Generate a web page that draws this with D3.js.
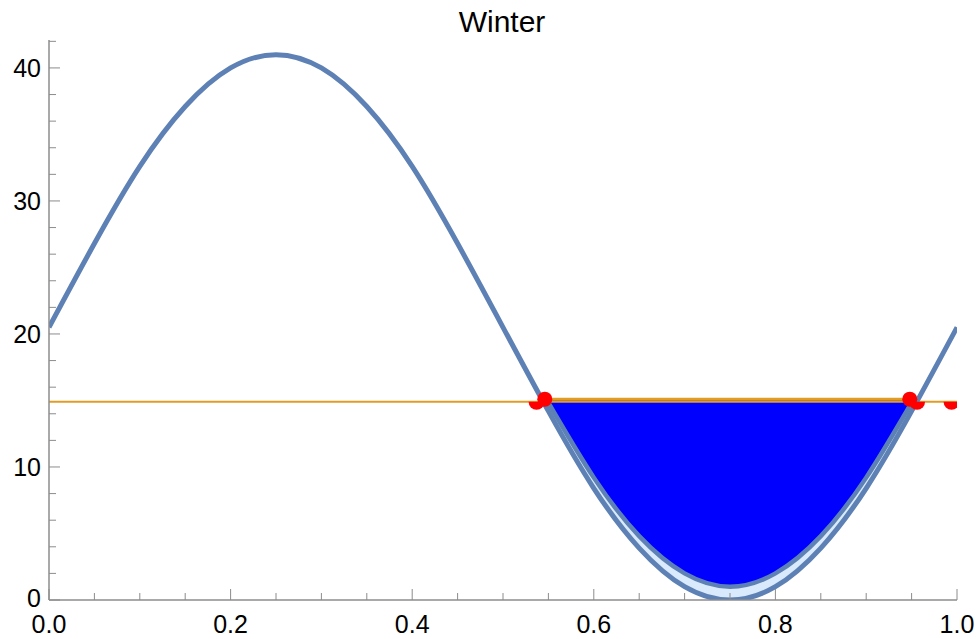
<!DOCTYPE html>
<html>
<head>
<meta charset="utf-8">
<title>Winter</title>
<script src="https://d3js.org/d3.v7.min.js"></script>
<style>
  body { margin: 0; background: #fff; }
  svg { display: block; font-family: "Liberation Sans", Arial, sans-serif; }
</style>
</head>
<body>
<div id="chart"></div>
<script>
// values
const curveX = [0, 0.05, 0.1, 0.15, 0.2, 0.25, 0.3, 0.35, 0.4, 0.45, 0.5,
                0.55, 0.6, 0.65, 0.7, 0.75, 0.8, 0.85, 0.9, 0.95, 1];
const curveY = [20.5, 26.8, 32.6, 37.1, 40.0, 41.0, 40.0, 37.1, 32.6, 26.8, 20.5,
                14.2, 8.4, 3.9, 1.0, 0.0, 1.0, 3.9, 8.4, 14.2, 20.5];

// lower part of the outer curve, below the threshold
const bandX = [0.543, 0.6, 0.65, 0.7, 0.75, 0.8, 0.85, 0.9, 0.957];
const bandY = [15.0, 8.4, 3.9, 1.0, 0.0, 1.0, 3.9, 8.4, 15.0];

// inner curve bounding the blue region
const innerX = [0.5485, 0.6, 0.65, 0.7, 0.75, 0.8, 0.85, 0.9, 0.9515];
const innerY = [15.0, 9.2, 4.8, 2.0, 1.0, 2.0, 4.8, 9.2, 15.0];

const threshold = 14.9;
const fillTop = 15.1;

const fullDotX = [0.546, 0.948];
const fullDotY = [15.1, 15.1];
const halfDotX = [0.537, 0.956, 0.994];
const halfDotY = [14.9, 14.9, 14.9];

const xTicks = [0, 0.2, 0.4, 0.6, 0.8, 1.0];
const xMinor = d3.range(0, 1.0001, 0.05);
const yTicks = [0, 10, 20, 30, 40];
const yMinor = d3.range(0, 42.1, 2);

const W = 979, H = 639;
const svg = d3.select("#chart").append("svg")
    .attr("width", W).attr("height", H);

const x = d3.scaleLinear().domain([0, 1]).range([49, 957]);
const y = d3.scaleLinear().domain([0, 42.1]).range([600, 40]);

svg.append("defs").append("clipPath").attr("id", "plot")
  .append("rect").attr("x", 49).attr("y", 0).attr("width", 908).attr("height", 600);

const g = svg.append("g").attr("clip-path", "url(#plot)");

const steel = "#5e81b5";
const orange = "#e19c24";

// light band between the two curves
const band = bandX.map((d, i) => [d, bandY[i]]);
g.append("path")
  .attr("d", d3.area().x(d => x(d[0])).y0(y(fillTop)).y1(d => y(d[1]))
    .curve(d3.curveNatural)(band))
  .attr("fill", "#d8eafb");

// blue region
const inner = innerX.map((d, i) => [d, innerY[i]]);
g.append("path")
  .attr("d", d3.area().x(d => x(d[0])).y0(y(fillTop)).y1(d => y(d[1]))
    .curve(d3.curveNatural)(inner))
  .attr("fill", "#0000ff");

// threshold line
g.append("line")
  .attr("x1", x(0)).attr("x2", x(1))
  .attr("y1", y(threshold)).attr("y2", y(threshold))
  .attr("stroke", orange).attr("stroke-width", 2);

g.append("line")
  .attr("x1", x(innerX[0])).attr("x2", x(innerX[innerX.length - 1]))
  .attr("y1", y(fillTop)).attr("y2", y(fillTop))
  .attr("stroke", orange).attr("stroke-width", 3);

// curves
const line = d3.line().x(d => x(d[0])).y(d => y(d[1])).curve(d3.curveNatural);
const outer = curveX.map((d, i) => [d, curveY[i]]);
g.append("path").attr("d", line(outer))
  .attr("fill", "none").attr("stroke", steel).attr("stroke-width", 5);
g.append("path").attr("d", line(inner))
  .attr("fill", "none").attr("stroke", steel).attr("stroke-width", 4.5);

// red points
g.selectAll("circle.full").data(fullDotX).join("circle")
  .attr("class", "full")
  .attr("cx", d => x(d)).attr("cy", (d, i) => y(fullDotY[i]))
  .attr("r", 7.5).attr("fill", "#ff0000");

const halfArc = d3.arc().innerRadius(0).outerRadius(8)
  .startAngle(Math.PI / 2).endAngle(3 * Math.PI / 2);
g.selectAll("path.half").data(halfDotX).join("path")
  .attr("class", "half")
  .attr("transform", (d, i) => `translate(${x(d)},${y(halfDotY[i])})`)
  .attr("d", halfArc()).attr("fill", "#ff0000");

// axes
const axisColor = "#8c8c8c";
const ax = svg.append("g");
ax.append("line").attr("x1", 49).attr("x2", 957).attr("y1", 600).attr("y2", 600)
  .attr("stroke", axisColor).attr("stroke-width", 1.5);
ax.append("line").attr("x1", 49).attr("x2", 49).attr("y1", 40).attr("y2", 600)
  .attr("stroke", axisColor).attr("stroke-width", 1.5);

ax.selectAll("line.xm").data(xMinor).join("line").attr("class", "xm")
  .attr("x1", d => x(d)).attr("x2", d => x(d))
  .attr("y1", 600).attr("y2", d => xTicks.some(t => Math.abs(t - d) < 1e-6) ? 589 : 593)
  .attr("stroke", axisColor).attr("stroke-width", 1);

ax.selectAll("line.ym").data(yMinor).join("line").attr("class", "ym")
  .attr("y1", d => y(d)).attr("y2", d => y(d))
  .attr("x1", 49).attr("x2", d => yTicks.includes(d) ? 60 : 56)
  .attr("stroke", axisColor).attr("stroke-width", 1);

ax.selectAll("text.xl").data(xTicks).join("text").attr("class", "xl")
  .attr("x", d => x(d)).attr("y", 633)
  .attr("text-anchor", "middle").attr("font-size", 25).attr("fill", "#000")
  .text(d => d3.format(".1f")(d));

ax.selectAll("text.yl").data(yTicks).join("text").attr("class", "yl")
  .attr("x", 41).attr("y", d => y(d) + (d === 0 ? 7 : 9))
  .attr("text-anchor", "end").attr("font-size", 25).attr("fill", "#000")
  .text(d => d);

svg.append("text").attr("x", 502).attr("y", 32)
  .attr("text-anchor", "middle").attr("font-size", 30).attr("fill", "#000")
  .text("Winter");
</script>
</body>
</html>
